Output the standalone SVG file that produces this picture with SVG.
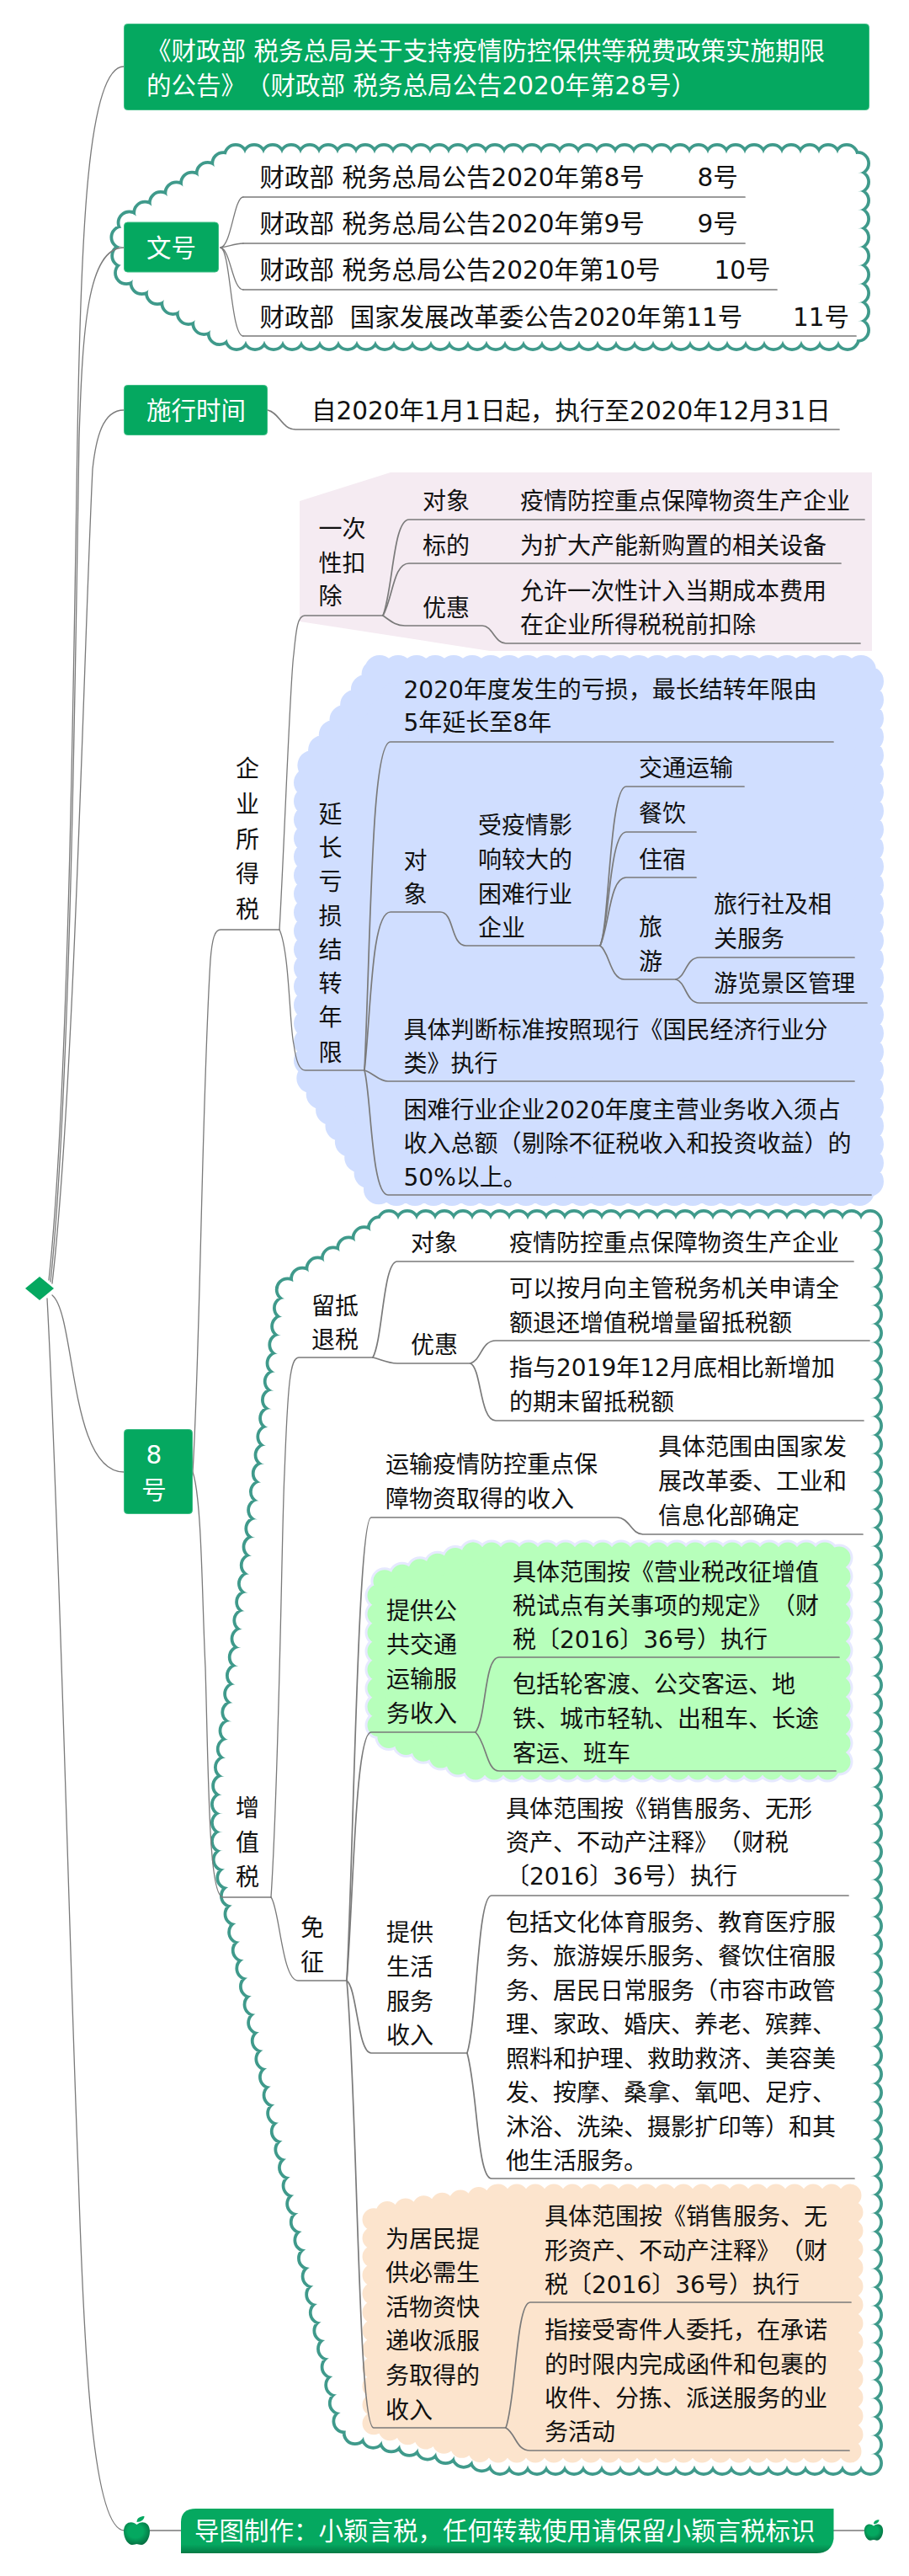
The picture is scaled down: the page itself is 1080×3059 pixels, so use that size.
<svg xmlns="http://www.w3.org/2000/svg" width="1080" height="3059" viewBox="0 0 1080 3059">
<style>
text{font-family:"DejaVu Sans","Noto Sans CJK SC",sans-serif;font-size:28px;fill:#111;white-space:pre;text-spacing-trim:space-all}
.w{fill:#fff;font-size:29.5px}
.b{font-size:29.5px}
.box{fill:#05a860;stroke:#3cbc84;stroke-width:1}
.cl,.cr{fill:none;stroke:#7a7a7a;stroke-linecap:round}
.cl{stroke-width:1.3}
.cr{stroke-width:1.7}
.dot{stroke-linecap:round;stroke-linejoin:round}
.t1{fill:none;stroke:#3f9a8b;stroke-width:30;stroke-dasharray:0 22}
.t2{fill:#fff;stroke:#fff;stroke-width:22.500;stroke-dasharray:0 22}
.blue{fill:#d0deff;stroke:#d0deff;stroke-width:36;stroke-dasharray:0 22}
.gh{fill:#e6e9ff;stroke:#e6e9ff;stroke-width:33;stroke-dasharray:0 22}
.gr{fill:#b7ffbb;stroke:#b7ffbb;stroke-width:27;stroke-dasharray:0 22}
.or{fill:#fce4cd;stroke:#fce4cd;stroke-width:27;stroke-dasharray:0 22}
</style>
<defs>
<path id="c1" d="M280 185H1019V402H270L147 322L145 270Z"/>
<path id="c2" d="M462 1451H1034V2925H590L412 2887L265 2200V2130L342 1530Z"/>
<path id="c3" d="M562 1845H997V2100H560L450 2058V1880Z"/>
<linearGradient id="foot" x1="0" y1="0" x2="0" y2="1"><stop offset="0.8" stop-color="#05a860"/><stop offset="1" stop-color="#047a45"/></linearGradient>
<radialGradient id="ap" cx="0.45" cy="0.4" r="0.65"><stop offset="0.45" stop-color="#05a860"/><stop offset="1" stop-color="#056a3e"/></radialGradient>
<g id="apple"><path fill="url(#ap)" d="M0 -7C-5 -12 -15.500 -11 -15.500 1C-15.500 10 -10 17 -5.500 17C-2.500 17 -1.500 16 0 16C1.500 16 2.500 17 5.500 17C10 17 15.500 10 15.500 1C15.500 -11 5 -12 0 -7Z"/><path fill="#05a860" d="M0 -10C0 -15 4 -17 9 -17C9 -13 5 -10 0 -10Z"/></g>
</defs>

<g id="backgrounds">
<polygon id="bg-pink" fill="#f5ebf2" points="356,595 464,561 1036,561 1036,773 582,773 356,738"/>
<path id="bg-blue" class="blue dot" d="M451 796H1032V1414H451L367 1275V915Z"/>
<g id="cloud-wenhao"><use href="#c1" class="t1 dot"/><use href="#c1" class="t2 dot"/></g>
<g id="cloud-zzs"><use href="#c2" class="t1 dot"/><use href="#c2" class="t2 dot"/></g>
<g id="bg-green"><use href="#c3" class="gh dot"/><use href="#c3" class="gr dot"/></g>
<path id="bg-orange" class="or dot" d="M592 2607H1012V2911H572L444 2880V2630Z"/>
</g>

<g id="connectors">
<path class="cl" d="M58 1520C82 1300 88 760 92 520C96 280 104 79 147 79"/>
<path class="cl" d="M60 1522C84 1300 90 760 94 520C98 390 104 294 147 294"/>
<path class="cl" d="M62 1524C88 1300 100 760 110 557C114 520 122 487 147 487"/>
<path class="cl" d="M62 1538C90 1560 82 1748 147 1748"/>
<path class="cl" d="M56 1542C70 1800 82 2300 93 2580C100 2800 110 3005 148 3005"/>
<path class="cl" d="M229 1748C238 1600 240 1300 250 1140C252 1115 255 1104 262 1104H332"/>
<path class="cl" d="M229 1748C240 1780 240 1900 244 1980C248 2120 248 2253 265 2253H322"/>
<path class="cl" d="M332 1104C338 1000 345 800 349 777C352 745 354 731 362 731H455"/>
<path class="cl" d="M332 1104C344 1130 344 1220 349 1240C352 1262 356 1271 363 1271H433"/>
<path class="cl" d="M262 294C275 292 278 234 289 234"/>
<path class="cl" d="M262 294C272 293 278 289 289 289"/>
<path class="cl" d="M262 294C274 296 276 344 289 344"/>
<path class="cl" d="M262 294C274 296 274 399 289 399"/>
<path class="cr" d="M289 234H885M289 289H885M289 344H923M289 399H1017"/>
<path class="cr" d="M318 487C332 490 335 510 351 510H997"/>
<path class="cr" d="M455 731C467 700 467 617 486 617H1027"/>
<path class="cr" d="M455 731C467 710 467 669 486 669H999"/>
<path class="cr" d="M455 731C465 738 470 743 481 743H573C585 743 588 764 601 764H1022"/>
<path class="cr" d="M433 1271C441 1100 441 881 464 881H990"/>
<path class="cr" d="M433 1271C441 1200 441 1083 464 1083H523C540 1083 535 1123 554 1123H713"/>
<path class="cr" d="M433 1271C445 1275 450 1284 461 1284H1015"/>
<path class="cr" d="M433 1271C441 1300 441 1419 461 1419H1035"/>
<path class="cr" d="M713 1123C724 1100 724 934 744 934H884"/>
<path class="cr" d="M713 1123C724 1100 724 988 744 988H827"/>
<path class="cr" d="M713 1123C724 1100 724 1042 744 1042H827"/>
<path class="cr" d="M713 1123C724 1130 725 1163 742 1163H803"/>
<path class="cr" d="M803 1163C815 1160 815 1137 831 1137H1015"/>
<path class="cr" d="M803 1163C815 1166 815 1191 831 1191H1030"/>
<path class="cl" d="M322 2253C332 2100 335 1800 338 1750C342 1640 345 1612 355 1612H443"/>
<path class="cl" d="M322 2253C332 2265 335 2352 354 2352H412"/>
<path class="cr" d="M443 1612C455 1590 455 1498 472 1498H1014"/>
<path class="cr" d="M443 1612C452 1614 460 1619 472 1619H559"/>
<path class="cr" d="M559 1619C572 1615 572 1592 589 1592H1033"/>
<path class="cr" d="M559 1619C572 1625 570 1687 589 1687H1026"/>
<path class="cr" d="M412 2352C420 2200 425 1802 441 1802H733C748 1802 750 1822 764 1822H1025"/>
<path class="cr" d="M412 2352C420 2250 422 2057 441 2057H565"/>
<path class="cr" d="M412 2352C424 2360 425 2438 441 2438H555"/>
<path class="cr" d="M412 2352C425 2500 425 2883 444 2883H601"/>
<path class="cr" d="M565 2057C578 2040 575 1968 593 1968H997"/>
<path class="cr" d="M565 2057C578 2070 578 2103 593 2103H993"/>
<path class="cr" d="M555 2438C567 2400 567 2251 584 2251H1008"/>
<path class="cr" d="M555 2438C567 2480 567 2587 584 2587H1015"/>
<path class="cr" d="M601 2883C613 2850 613 2734 630 2734H1011"/>
<path class="cr" d="M601 2883C613 2890 613 2910 630 2910H1009"/>
<path class="cl" d="M178 3005H215M990 3005H1028"/>
</g>

<g id="root"><polygon fill="#05a860" points="47,1516 64,1530 47,1544 30,1530"/></g>

<g id="n-title"><rect class="box" x="147.500" y="28.500" width="885" height="102" rx="4"/>
<text class="w" x="174" y="71">《财政部 税务总局关于支持疫情防控保供等税费政策实施期限</text>
<text class="w" x="174" y="112">的公告》（财政部 税务总局公告2020年第28号）</text></g>

<g id="n-wenhao"><rect class="box" x="147.500" y="264" width="112" height="59" rx="4"/>
<text class="w" x="174" y="305">文号</text></g>
<g id="n-doc1"><text class="b" x="308.500" y="221">财政部 税务总局公告2020年第8号<tspan x="828.500">8号</tspan></text></g>
<g id="n-doc2"><text class="b" x="308.500" y="276">财政部 税务总局公告2020年第9号<tspan x="828.500">9号</tspan></text></g>
<g id="n-doc3"><text class="b" x="308.500" y="331">财政部 税务总局公告2020年第10号<tspan x="848.500">10号</tspan></text></g>
<g id="n-doc4"><text class="b" x="308.500" y="387">财政部  国家发展改革委公告2020年第11号<tspan x="942">11号</tspan></text></g>

<g id="n-shixing"><rect class="box" x="147.500" y="457.500" width="170" height="59" rx="4"/>
<text class="w" x="174" y="498">施行时间</text></g>
<g id="n-date"><text class="b" x="370" y="498">自2020年1月1日起，执行至2020年12月31日</text></g>

<g id="n-8hao"><rect class="box" x="147.500" y="1697.500" width="81" height="100" rx="4"/>
<text class="w" x="183" y="1738" text-anchor="middle">8</text>
<text class="w" x="183" y="1780" text-anchor="middle">号</text></g>

<g id="n-qysds"><text x="280" y="923">企</text><text x="280" y="965">业</text><text x="280" y="1007">所</text><text x="280" y="1048">得</text><text x="280" y="1090">税</text></g>

<g id="n-once"><text x="378.500" y="638">一次</text><text x="378.500" y="679">性扣</text><text x="378.500" y="718">除</text></g>
<g id="n-once-a"><text x="502" y="605">对象</text><text x="618" y="605">疫情防控重点保障物资生产企业</text></g>
<g id="n-once-b"><text x="502" y="658">标的</text><text x="618" y="658">为扩大产能新购置的相关设备</text></g>
<g id="n-once-c"><text x="502" y="732">优惠</text><text x="618" y="712">允许一次性计入当期成本费用</text><text x="618" y="752">在企业所得税税前扣除</text></g>

<g id="n-extend"><text x="378.500" y="977">延</text><text x="378.500" y="1017">长</text><text x="378.500" y="1057">亏</text><text x="378.500" y="1098">损</text><text x="378.500" y="1138">结</text><text x="378.500" y="1178">转</text><text x="378.500" y="1218">年</text><text x="378.500" y="1260">限</text></g>
<g id="n-ext1"><text x="479.500" y="829">2020年度发生的亏损，最长结转年限由</text><text x="479.500" y="868">5年延长至8年</text></g>
<g id="n-ext2"><text x="479.500" y="1032">对</text><text x="479.500" y="1072">象</text></g>
<g id="n-ext2a"><text x="568" y="990">受疫情影</text><text x="568" y="1031">响较大的</text><text x="568" y="1072">困难行业</text><text x="568" y="1112">企业</text></g>
<g id="n-ind1"><text x="759" y="922">交通运输</text></g>
<g id="n-ind2"><text x="759" y="976">餐饮</text></g>
<g id="n-ind3"><text x="759" y="1031">住宿</text></g>
<g id="n-ind4"><text x="759" y="1111">旅</text><text x="759" y="1152">游</text></g>
<g id="n-ind4a"><text x="848" y="1084">旅行社及相</text><text x="848" y="1125">关服务</text></g>
<g id="n-ind4b"><text x="848" y="1178">游览景区管理</text></g>
<g id="n-ext3"><text x="479.500" y="1233">具体判断标准按照现行《国民经济行业分</text><text x="479.500" y="1273">类》执行</text></g>
<g id="n-ext4"><text x="479.500" y="1328">困难行业企业2020年度主营业务收入须占</text><text x="479.500" y="1368">收入总额（剔除不征税收入和投资收益）的</text><text x="479.500" y="1408">50%以上。</text></g>

<g id="n-zzs"><text x="280" y="2157">增</text><text x="280" y="2198">值</text><text x="280" y="2239">税</text></g>
<g id="n-refund"><text x="370" y="1561">留抵</text><text x="370" y="1601">退税</text></g>
<g id="n-ref-a"><text x="488" y="1486">对象</text><text x="605" y="1486">疫情防控重点保障物资生产企业</text></g>
<g id="n-ref-b"><text x="488" y="1607">优惠</text></g>
<g id="n-ref-b1"><text x="605" y="1540">可以按月向主管税务机关申请全</text><text x="605" y="1581">额退还增值税增量留抵税额</text></g>
<g id="n-ref-b2"><text x="605" y="1634">指与2019年12月底相比新增加</text><text x="605" y="1675">的期末留抵税额</text></g>

<g id="n-exempt"><text x="357" y="2299">免</text><text x="357" y="2340">征</text></g>
<g id="n-ex1"><text x="458" y="1749">运输疫情防控重点保</text><text x="458" y="1790">障物资取得的收入</text></g>
<g id="n-ex1a"><text x="782" y="1728">具体范围由国家发</text><text x="782" y="1769">展改革委、工业和</text><text x="782" y="1810">信息化部确定</text></g>
<g id="n-ex2"><text x="459" y="1923">提供公</text><text x="459" y="1963">共交通</text><text x="459" y="2004">运输服</text><text x="459" y="2045">务收入</text></g>
<g id="n-ex2a"><text x="609" y="1877">具体范围按《营业税改征增值</text><text x="609" y="1917">税试点有关事项的规定》（财</text><text x="609" y="1957">税〔2016〕36号）执行</text></g>
<g id="n-ex2b"><text x="609" y="2010">包括轮客渡、公交客运、地</text><text x="609" y="2051">铁、城市轻轨、出租车、长途</text><text x="609" y="2092">客运、班车</text></g>
<g id="n-ex3"><text x="459" y="2305">提供</text><text x="459" y="2346">生活</text><text x="459" y="2387">服务</text><text x="459" y="2427">收入</text></g>
<g id="n-ex3a"><text x="601" y="2158">具体范围按《销售服务、无形</text><text x="601" y="2198">资产、不动产注释》（财税</text><text x="601" y="2238">〔2016〕36号）执行</text></g>
<g id="n-ex3b"><text x="601" y="2293">包括文化体育服务、教育医疗服</text><text x="601" y="2333">务、旅游娱乐服务、餐饮住宿服</text><text x="601" y="2374">务、居民日常服务（市容市政管</text><text x="601" y="2414">理、家政、婚庆、养老、殡葬、</text><text x="601" y="2455">照料和护理、救助救济、美容美</text><text x="601" y="2495">发、按摩、桑拿、氧吧、足疗、</text><text x="601" y="2536">沐浴、洗染、摄影扩印等）和其</text><text x="601" y="2576">他生活服务。</text></g>
<g id="n-ex4"><text x="458" y="2669">为居民提</text><text x="458" y="2709">供必需生</text><text x="458" y="2750">活物资快</text><text x="458" y="2790">递收派服</text><text x="458" y="2831">务取得的</text><text x="458" y="2872">收入</text></g>
<g id="n-ex4a"><text x="647" y="2642">具体范围按《销售服务、无</text><text x="647" y="2683">形资产、不动产注释》（财</text><text x="647" y="2723">税〔2016〕36号）执行</text></g>
<g id="n-ex4b"><text x="647" y="2777">指接受寄件人委托，在承诺</text><text x="647" y="2818">的时限内完成函件和包裹的</text><text x="647" y="2858">收件、分拣、派送服务的业</text><text x="647" y="2898">务活动</text></g>

<g id="n-footer">
<use href="#apple" x="162.500" y="3005"/>
<path fill="url(#foot)" d="M215 2995Q215 2979 233 2979H990.500V3015Q988 3032 970 3032H215Z"/>
<text class="w" x="231" y="3016">导图制作：小颖言税，任何转载使用请保留小颖言税标识</text>
<use href="#apple" transform="translate(1038 3004.500) scale(.72)"/>
</g>
</svg>
